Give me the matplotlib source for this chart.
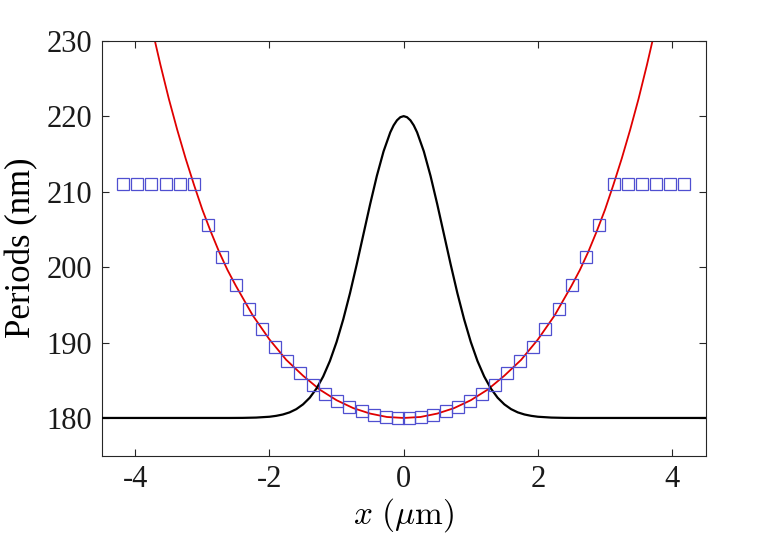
import matplotlib
matplotlib.use("Agg")
import matplotlib.pyplot as plt

plt.rcParams['font.family'] = ['Liberation Serif', 'DejaVu Serif']
plt.rcParams['mathtext.fontset'] = 'cm'
plt.rcParams['axes.unicode_minus'] = False

# blue squares: grating positions (um) and periods (nm), right half; left half mirrored
sq_x_right = [0.086, 0.264, 0.443, 0.627, 0.813, 0.990, 1.172, 1.357, 1.545, 1.734,
              1.924, 2.113, 2.311, 2.506, 2.712, 2.917, 3.128, 3.339, 3.549, 3.759,
              3.970, 4.183]
sq_p_right = [180.02, 180.15, 180.45, 180.92, 181.5, 182.3, 183.2, 184.4, 185.9, 187.55,
              189.45, 191.75, 194.4, 197.6, 201.3, 205.6, 211.0, 211.0, 211.0, 211.0,
              211.0, 211.0]

# red fitted curve, right half
red_x_right = [0.0, 0.25, 0.5, 0.75, 1.0, 1.25, 1.5, 1.75, 2.0, 2.25, 2.5, 2.625,
               2.75, 2.875, 3.0, 3.125, 3.25, 3.375, 3.5, 3.625, 3.75]
red_p_right = [180.0, 180.13, 180.58, 181.3, 182.35, 183.75, 185.6, 187.7, 190.4,
               193.6, 197.5, 199.6, 202.0, 204.7, 207.6, 210.9, 214.4, 218.2, 222.3,
               226.8, 231.6]

# black profile, right half
blk_x_right = [0.0, 0.05, 0.1, 0.15, 0.2, 0.3, 0.4, 0.5, 0.6, 0.7, 0.8, 0.9, 1.0, 1.1,
               1.2, 1.3, 1.4, 1.5, 1.6, 1.7, 1.8, 1.9, 2.0, 2.2, 2.4, 2.6, 3.0, 4.5]
blk_p_right = [220.0, 219.86, 219.45, 218.78, 217.85, 215.33, 212.08, 208.33, 204.34,
               200.35, 196.54, 193.09, 190.07, 187.54, 185.49, 183.89, 182.68, 181.8,
               181.17, 180.74, 180.46, 180.28, 180.16, 180.05, 180.01, 180.0, 180.0, 180.0]

def mirror(xs, ys):
    if xs[0] == 0.0:
        return [-v for v in xs[:0:-1]] + xs, ys[:0:-1] + ys
    return [-v for v in xs[::-1]] + xs, ys[::-1] + ys

sq_x, sq_p = mirror(sq_x_right, sq_p_right)
red_x, red_p = mirror(red_x_right, red_p_right)
blk_x, blk_p = mirror(blk_x_right, blk_p_right)

fig = plt.figure(figsize=(7.8, 5.41), dpi=100)
ax = fig.add_axes([0.1304, 0.1577, 0.7743, 0.7671])

ax.plot(red_x, red_p, color='#e00000', lw=1.3, zorder=2)
ax.plot(blk_x, blk_p, color='black', lw=1.6, zorder=3)
ax.plot(sq_x, sq_p, ls='none', marker='s', ms=8, mfc='none', mec='#4f4fd0', mew=0.9, zorder=4)

ax.set_xlim(-4.5, 4.5)
ax.set_ylim(175, 230)
ax.set_xticks([-4, -2, 0, 2, 4])
ax.set_xticklabels(['-4', '-2', '0', '2', '4'])
ax.set_yticks([180, 190, 200, 210, 220, 230])
ax.tick_params(direction='in', length=5, width=0.8, top=True, right=True,
               labelsize=22, colors='#262626', labelcolor='#1a1a1a', pad=7)
for s in ax.spines.values():
    s.set_color('#262626')
    s.set_linewidth(0.8)

ax.set_xlabel(r'$x\ (\mu\mathrm{m})$', fontsize=24, labelpad=1)
ax.set_ylabel('Periods (nm)', fontsize=25, labelpad=6)

fig.savefig('out.png', dpi=100, facecolor='w')
